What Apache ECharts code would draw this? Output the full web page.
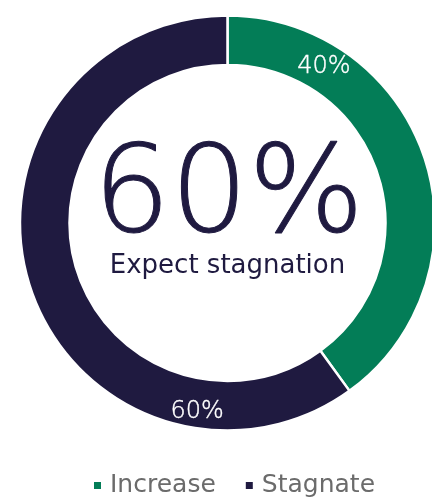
<!DOCTYPE html>
<html>
<head>
<meta charset="utf-8">
<script src="https://cdn.jsdelivr.net/npm/echarts@6/dist/echarts.min.js"></script>
<style>
  html, body { margin: 0; padding: 0; background: #ffffff; }
  #chart { width: 432px; height: 500px; }
</style>
</head>
<body>
<div id="chart"></div>
<script>
// Share of respondents by expectation
const categories = ['Increase', 'Stagnate'];
const shares = [40, 60];
const colors = ['#037d57', '#1f1a40'];
const headline = '60%';
const headlineCaption = 'Expect stagnation';

const FONT = '"DejaVu Sans", sans-serif';
const cx = 227.5, cy = 223;
const rInner = 158, rOuter = 207.5;
const total = shares.reduce((a, b) => a + b, 0);

// Value labels sit a little way into each slice, on the middle of the ring
function labelPoint(idx) {
  let before = 0;
  for (let i = 0; i < idx; i++) before += shares[i];
  const sweep = shares[idx] / total * 360;
  const deg = before / total * 360 + sweep * 0.212;
  const rad = deg * Math.PI / 180;
  const r = (rInner + rOuter) / 2 + 4;
  return { x: cx + r * Math.sin(rad) + 1.5, y: cy - r * Math.cos(rad) + 5 };
}

const chart = echarts.init(document.getElementById('chart'), null, { renderer: 'canvas' });
chart.setOption({
  animation: false,
  legend: {
    top: 473,
    left: 92,
    padding: 0,
    icon: 'rect',
    itemWidth: 9,
    itemHeight: 9,
    itemGap: 28,
    data: categories,
    textStyle: { fontFamily: FONT, fontWeight: 400, fontSize: 25, color: '#6b6b6b', padding: [0, 0, 0, 3] }
  },
  graphic: [
    {
      type: 'text', x: cx + 1, y: 199,
      style: {
        text: headline, fill: '#1f1a40', font: '200 122px ' + FONT,
        stroke: '#1f1a40', lineWidth: 1,
        align: 'center', verticalAlign: 'middle'
      }
    },
    {
      type: 'text', x: cx, y: 266,
      style: {
        text: headlineCaption, fill: '#1f1a40', font: '400 26px ' + FONT,
        align: 'center', verticalAlign: 'middle'
      }
    }
  ],
  series: [{
    type: 'pie',
    center: [cx, cy],
    radius: [rInner, rOuter],
    startAngle: 90,
    clockwise: true,
    silent: true,
    itemStyle: { borderColor: '#ffffff', borderWidth: 2.5 },
    label: {
      show: true,
      position: 'inside',
      formatter: p => p.value + '%',
      color: '#ffffff',
      fontFamily: FONT,
      fontWeight: 200,
      fontSize: 24,
      textBorderColor: '#ffffff',
      textBorderWidth: 0.4
    },
    labelLine: { show: false },
    labelLayout: params => {
      const pt = labelPoint(params.dataIndex);
      return { x: pt.x, y: pt.y, align: 'center', verticalAlign: 'middle' };
    },
    data: categories.map((name, i) => ({
      name, value: shares[i], itemStyle: { color: colors[i] }
    }))
  }]
});
</script>
</body>
</html>
